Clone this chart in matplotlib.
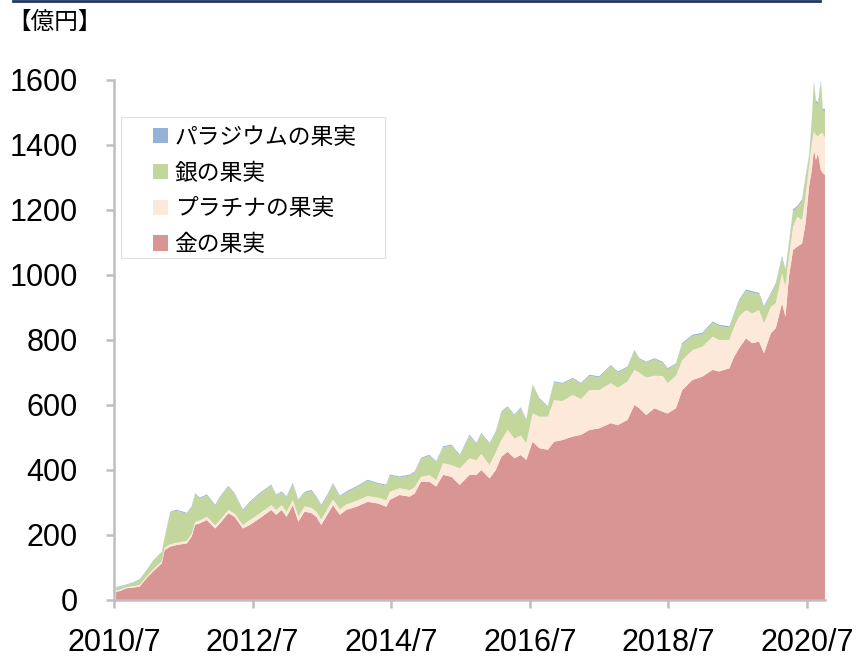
import matplotlib
matplotlib.use("Agg")
import matplotlib.pyplot as plt
from matplotlib.lines import Line2D
from matplotlib.patches import Rectangle

plt.rcParams['font.family'] = ['Liberation Sans', 'Noto Sans CJK JP']

# decimal year of each reading
dates = [2010.53, 2010.59, 2010.68, 2010.77, 2010.87, 2010.97, 2011.06, 2011.19, 2011.23, 2011.31,
         2011.40, 2011.55, 2011.62, 2011.67, 2011.74, 2011.84, 2011.96, 2012.03, 2012.15, 2012.24,
         2012.36, 2012.46, 2012.60, 2012.77, 2012.84, 2012.92, 2012.99, 2013.08, 2013.16, 2013.25,
         2013.35, 2013.42, 2013.49, 2013.59, 2013.66, 2013.76, 2013.85, 2014.00, 2014.16, 2014.31,
         2014.43, 2014.48, 2014.62, 2014.77, 2014.84, 2014.93, 2015.05, 2015.15, 2015.25, 2015.37,
         2015.49, 2015.63, 2015.73, 2015.80, 2015.92, 2016.01, 2016.09, 2016.18, 2016.28, 2016.37,
         2016.45, 2016.54, 2016.64, 2016.76, 2016.85, 2016.97, 2017.12, 2017.24, 2017.36, 2017.50,
         2017.67, 2017.77, 2017.91, 2018.01, 2018.08, 2018.18, 2018.30, 2018.42, 2018.49, 2018.61,
         2018.70, 2018.85, 2018.99, 2019.14, 2019.23, 2019.38, 2019.45, 2019.52, 2019.62, 2019.71,
         2019.81, 2019.88, 2019.98, 2020.05, 2020.14, 2020.19, 2020.24, 2020.30, 2020.36, 2020.43,
         2020.48, 2020.53, 2020.57, 2020.60, 2020.63, 2020.66, 2020.70, 2020.73, 2020.76]

# 億円
gold = [25, 28, 36, 38, 41, 67, 87, 113, 154, 164,
        169, 174, 195, 231, 236, 246, 220, 236, 267, 256,
        220, 231, 251, 277, 262, 277, 256, 292, 241, 272,
        267, 256, 231, 267, 292, 262, 277, 287, 302, 297,
        287, 308, 323, 318, 328, 364, 364, 349, 385, 379,
        354, 385, 385, 400, 374, 400, 441, 456, 436, 446,
        431, 487, 467, 462, 487, 492, 503, 508, 523, 528,
        544, 538, 554, 600, 590, 569, 590, 579, 574, 590,
        646, 677, 687, 708, 703, 713, 749, 774, 805, 790,
        795, 759, 821, 836, 913, 872, 995, 1077, 1087, 1097,
        1159, 1272, 1323, 1385, 1354, 1374, 1323, 1313, 1308]
platinum = [4, 4, 4, 4, 5, 5, 6, 6, 7, 7,
            7, 8, 8, 9, 9, 10, 10, 10, 10, 10,
            10, 15, 15, 15, 15, 15, 15, 16, 16, 16,
            16, 16, 16, 17, 17, 17, 17, 18, 18, 18,
            20, 25, 21, 20, 20, 15, 20, 20, 36, 36,
            51, 51, 45, 50, 41, 55, 51, 67, 61, 60,
            51, 87, 97, 102, 128, 120, 128, 110, 123, 118,
            123, 115, 118, 108, 110, 115, 100, 110, 93, 100,
            92, 92, 92, 102, 97, 87, 92, 98, 87, 92,
            97, 92, 82, 77, 92, 92, 61, 72, 92, 72,
            82, 61, 82, 56, 77, 52, 113, 123, 114]
silver = [9, 8, 6, 10, 16, 18, 25, 28, 29, 97,
          99, 83, 82, 85, 67, 66, 60, 70, 71, 60,
          45, 54, 60, 60, 44, 39, 45, 49, 49, 42,
          53, 44, 43, 42, 48, 39, 37, 42, 47, 42,
          45, 50, 33, 45, 45, 55, 60, 55, 49, 60,
          39, 70, 50, 61, 65, 61, 85, 70, 70, 84,
          70, 86, 54, 29, 55, 53, 49, 47, 44, 39,
          53, 47, 43, 58, 41, 46, 51, 41, 43, 35,
          49, 43, 39, 43, 43, 38, 38, 48, 59, 64,
          49, 49, 38, 58, 48, 48, 38, 48, 28, 59,
          58, 28, 69, 150, 99, 99, 156, 69, 83]
palladium = [2, 2, 2, 2, 2, 2, 2, 2, 2, 3,
             3, 3, 3, 3, 3, 3, 3, 3, 3, 3,
             3, 3, 3, 3, 3, 3, 3, 3, 3, 3,
             3, 3, 3, 3, 3, 3, 3, 3, 3, 3,
             3, 3, 3, 3, 3, 3, 3, 3, 3, 3,
             3, 3, 3, 3, 3, 3, 3, 3, 3, 3,
             3, 3, 3, 3, 3, 3, 3, 3, 3, 3,
             3, 3, 3, 3, 3, 3, 3, 3, 3, 3,
             4, 4, 4, 4, 4, 4, 4, 4, 4, 4,
             4, 4, 4, 4, 5, 5, 5, 5, 5, 5,
             5, 5, 5, 6, 6, 6, 6, 6, 6]

labels = ['金の果実', 'プラチナの果実', '銀の果実', 'パラジウムの果実']
colors = ['#D99594', '#FDE9D9', '#C3D69B', '#95B3D7']
xticks = [2010.5, 2012.5, 2014.5, 2016.5, 2018.5, 2020.5]
xticklabels = ['2010/7', '2012/7', '2014/7', '2016/7', '2018/7', '2020/7']

fig = plt.figure(figsize=(8.58, 6.62), dpi=100)
ax = fig.add_axes([0.1329, 0.0937, 0.8286, 0.7855])

ax.stackplot(dates, gold, platinum, silver, palladium,
             colors=colors, labels=labels, linewidth=0)

ax.set_xlim(2010.5, 2020.76)
ax.set_ylim(0, 1600)
ax.set_yticks(range(0, 1601, 200))
ax.set_xticks(xticks)
ax.set_xticklabels(xticklabels)

for s in ['top', 'right']:
    ax.spines[s].set_visible(False)
for s in ['left', 'bottom']:
    ax.spines[s].set_color('#BFBFBF')
    ax.spines[s].set_linewidth(1.8)
ax.tick_params(axis='both', colors='#BFBFBF', width=1.8, length=6,
               labelsize=22, labelcolor='black')
ax.tick_params(axis='y', pad=20)
ax.tick_params(axis='x', pad=14)

# legend frame drawn separately (wide side padding as in the original)
ax.add_patch(Rectangle((0.1407, 0.6103), 0.308, 0.213, transform=fig.transFigure,
                       facecolor='white', edgecolor='#E0E0E0', linewidth=0.8,
                       zorder=4, clip_on=False))
handles, labs = ax.get_legend_handles_labels()
leg = ax.legend(handles[::-1], labs[::-1], loc='upper left',
                bbox_to_anchor=(0.178, 0.810), bbox_transform=fig.transFigure,
                prop={'family': 'Noto Sans CJK JP', 'size': 16.4},
                frameon=False, handlelength=0.66, handleheight=0.66,
                handletextpad=0.3, labelspacing=0.56, borderpad=0, borderaxespad=0)
leg.set_zorder(6)

fig.text(0.008, 0.966, '【億円】', fontsize=17, family='Noto Sans CJK JP',
         ha='left', va='center')
fig.add_artist(Line2D([0.015, 0.956], [0.998, 0.998], color='#1F3864',
                      linewidth=2, transform=fig.transFigure))

fig.savefig('out.png', dpi=100)
